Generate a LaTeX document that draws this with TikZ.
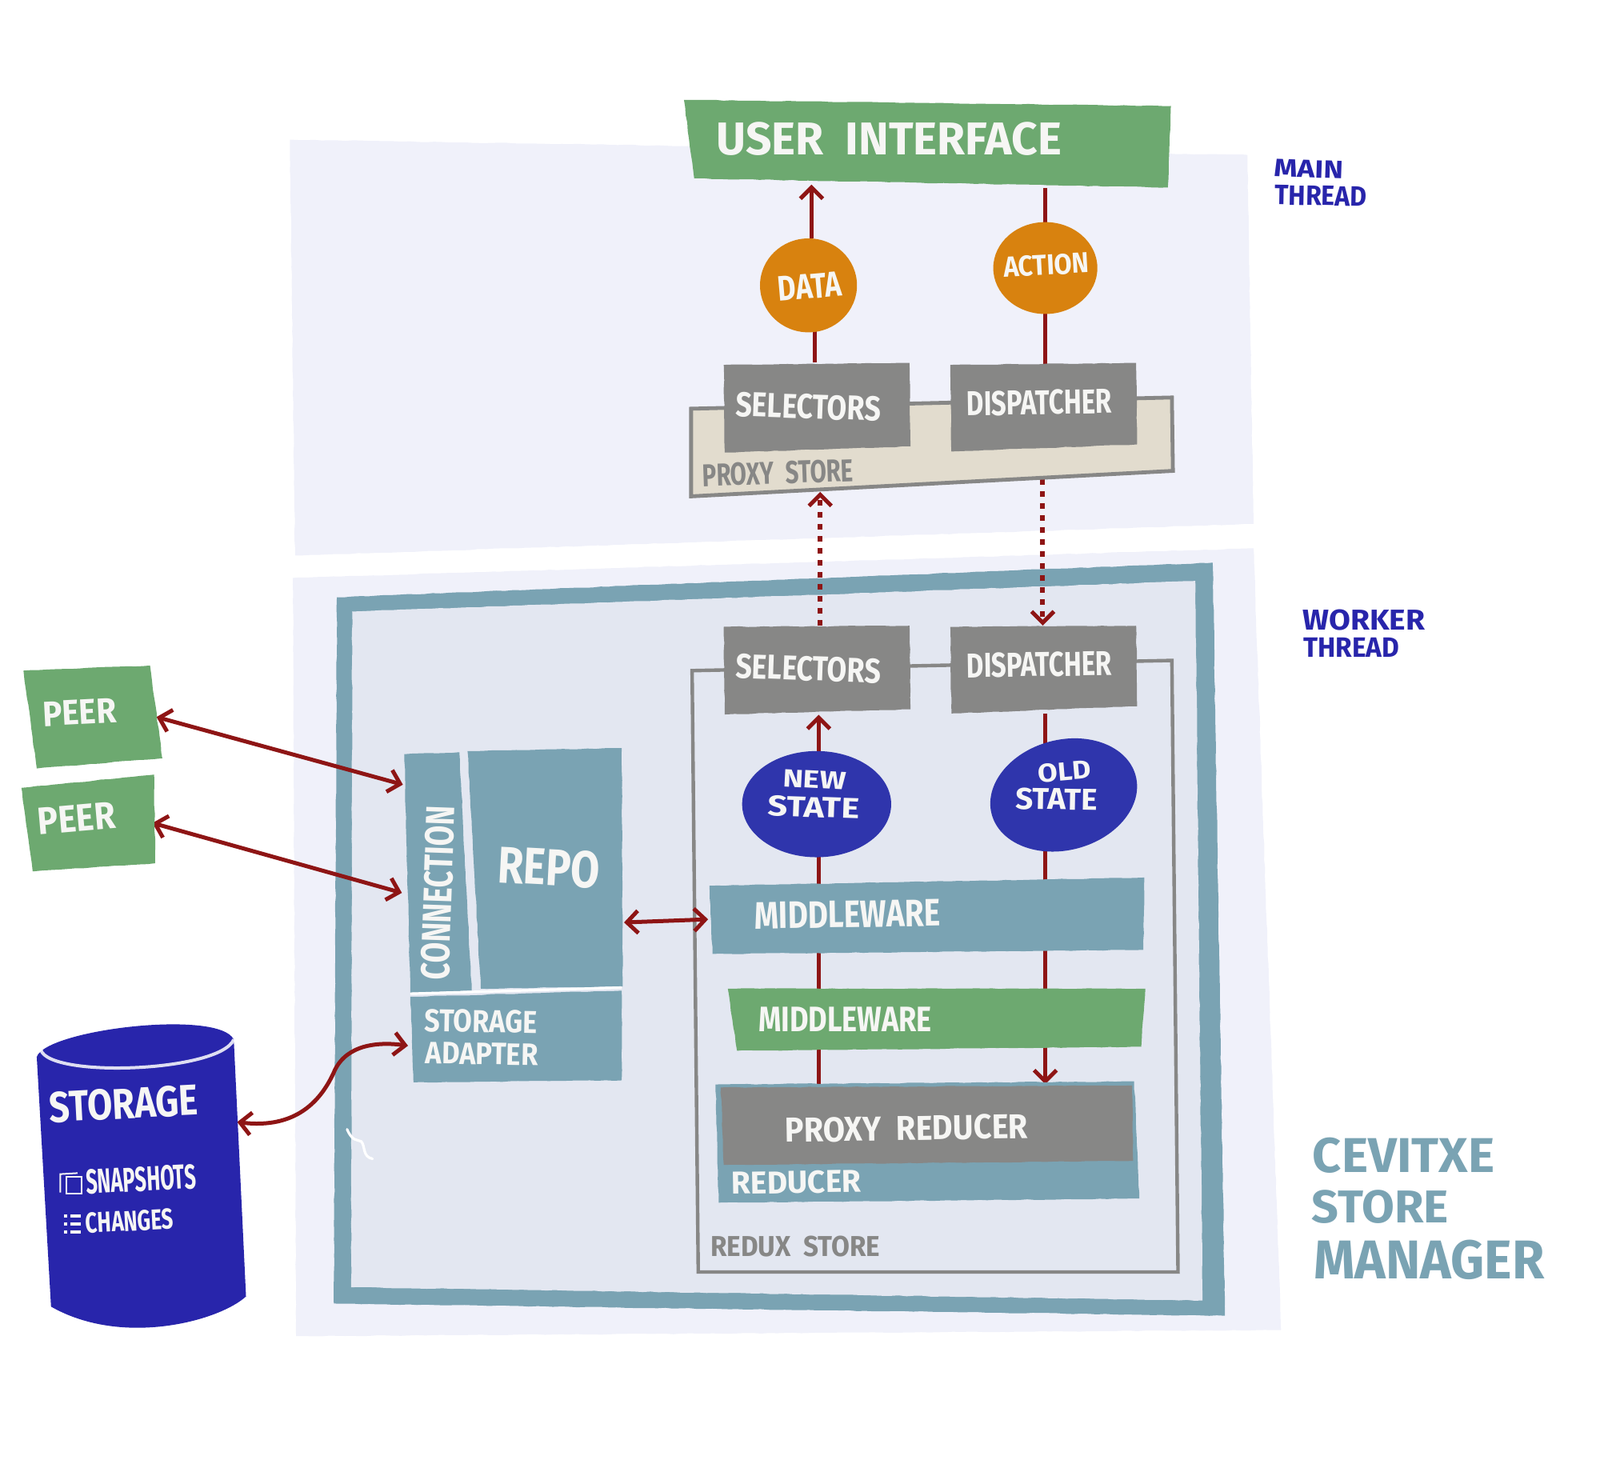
\documentclass[tikz,border=0pt]{standalone}
\usepackage{graphicx}
\usepackage{fontspec}
\setmainfont{Fira Sans}
\usetikzlibrary{arrows.meta,fit,calc,shapes.geometric,decorations.pathmorphing}
\definecolor{panelc}{HTML}{F0F1FA}
\definecolor{innerc}{HTML}{E3E7F1}
\definecolor{tealc}{HTML}{7AA3B3}
\definecolor{greenc}{HTML}{6DA970}
\definecolor{grayc}{HTML}{878786}
\definecolor{beigec}{HTML}{E2DCCE}
\definecolor{orangec}{HTML}{D8820F}
\definecolor{bluec}{HTML}{2F35AC}
\definecolor{deepc}{HTML}{2825AB}
\definecolor{redc}{HTML}{8E1515}
\definecolor{whitec}{HTML}{F6F6F4}
\newdimen\myu \myu=0.638pt
\pgfdeclarelayer{panel}
\pgfdeclarelayer{conn}
\pgfsetlayers{panel,conn,main}
\tikzset{
  rough/.style={decorate,decoration={random steps,segment length=5pt,amplitude=0.25pt}},
  teal fill/.style={rough,fill=tealc},
  green fill/.style={rough,fill=greenc},
  gray fill/.style={rough,fill=grayc},
  proxy fill/.style={fill=beigec,draw=grayc,line width=2.4pt},
  state/.style={ellipse,fill=bluec,inner sep=0pt},
  token/.style={ellipse,fill=orangec,inner sep=0pt},
  link/.style={draw=redc,line width=2.5pt},
  barb/.style={Straight Barb[length=7pt,width=14pt,line width=2.5pt]},
  flow/.style={link,-{Straight Barb[length=7pt,width=14pt,line width=2.5pt]}},
  both/.style={link,{Straight Barb[length=7pt,width=14pt,line width=2.5pt]}-{Straight Barb[length=7pt,width=14pt,line width=2.5pt]}},
  dots/.style={line width=3pt,dash pattern=on 3.5pt off 4pt},
}
% name, style, four corners
\newcommand{\poly}[6]{%
  \path[#2] #3 coordinate (#1-a) -- #4 coordinate (#1-b) -- #5 coordinate (#1-c) -- #6 coordinate (#1-d) -- cycle;
  \node[fit=(#1-a)(#1-b)(#1-c)(#1-d),inner sep=0pt] (#1) {};}
% name, position, rotation, width, height, colour, text
\newcommand{\lab}[7]{%
  \node[text=#6,inner sep=0pt,rotate=#3] (#1) at (#2) {\resizebox{#4\myu}{#5\myu}{\bfseries #7}};}
\begin{document}
\begin{tikzpicture}[x=0.638pt,y=-0.637pt]
\useasboundingbox (0pt,0pt) rectangle (1000pt,-914.5pt);
\begin{pgfonlayer}{panel}
  \poly{mainthread}{rough,fill=panelc}{(284,137)}{(1222,152)}{(1228,514)}{(289,545)}
  \poly{workerthread}{rough,fill=panelc}{(287,567)}{(1228,538)}{(1255,1305)}{(290,1311)}
  \path[rough,fill=tealc] (330,586) -- (1188,552) -- (1200,1291) -- (327,1279) -- cycle;
  \poly{managerbox}{rough,fill=innerc}{(345,600)}{(1171,570)}{(1178,1276)}{(344,1263)}
  \poly{reduxstore}{draw=grayc,line width=2.2pt}{(678,658)}{(1148,648)}{(1154,1248)}{(684,1248)}
\end{pgfonlayer}

\poly{ui}{green fill}{(670,98)}{(1147,104)}{(1144,184)}{(680,175)}
\poly{proxystore}{proxy fill}{(677,401)}{(1148,390)}{(1149,462)}{(677,487)}
\poly{sela}{gray fill}{(709,358)}{(891,356)}{(892,438)}{(710,444)}
\poly{disa}{gray fill}{(931,358)}{(1113,356)}{(1114,436)}{(932,443)}
\node[token,minimum width=95\myu,minimum height=92\myu] (data) at (792,280) {};
\node[token,minimum width=102\myu,minimum height=90\myu] (action) at (1024,263) {};
\poly{selb}{gray fill}{(709,615)}{(891,614)}{(892,696)}{(710,701)}
\poly{disb}{gray fill}{(931,615)}{(1113,614)}{(1114,693)}{(932,700)}
\node[state,minimum width=146\myu,minimum height=104\myu] (newstate) at (800,789) {};
\node[state,rotate=15,minimum width=146\myu,minimum height=108\myu] (oldstate) at (1042,780) {};
\poly{mwa}{teal fill}{(695,869)}{(1121,861)}{(1120,932)}{(698,936)}
\poly{mwb}{green fill}{(713,970)}{(1122,970)}{(1118,1027)}{(722,1031)}
\poly{reducer}{teal fill}{(701,1064)}{(1111,1061)}{(1116,1176)}{(704,1180)}
\poly{proxyreducer}{gray fill}{(706,1067)}{(1109,1065)}{(1110,1139)}{(709,1143)}
\poly{connection}{teal fill}{(396,740)}{(450,738)}{(462,972)}{(402,974)}
\poly{repo}{teal fill}{(458,737)}{(609,734)}{(610,968)}{(471,970)}
\poly{adapter}{teal fill}{(402,978)}{(609,972)}{(609,1060)}{(405,1062)}
\draw[white,line width=1.6pt] (402,975) -- (609,969);
\poly{peera}{green fill}{(23,658)}{(147,653)}{(159,744)}{(36,754)}
\poly{peerb}{green fill}{(21,773)}{(151,760)}{(152,847)}{(32,855)}

% storage cylinder
\fill[deepc] (36,1037) .. controls (45,1010) and (215,990) .. (229,1020) -- (241,1272)
  .. controls (215,1296) and (120,1322) .. (50,1282) -- cycle;
\draw[white,line width=2pt,opacity=.85] (40,1030) .. controls (48,1058) and (215,1052) .. (229,1020);
\coordinate (st1) at (36,1002);
\coordinate (st2) at (241,1298);
\node[fit=(st1)(st2),inner sep=0pt] (storage) {};
% icons in the cylinder
\draw[whitec,line width=1pt] (59,1170) -- (59,1152) -- (76,1151);
\draw[whitec,line width=1pt] (65,1155) rectangle (80,1171);
\foreach \yy in {1193,1201,1209}{
  \fill[whitec] (63,\yy-1.5) rectangle (66,\yy+1.5);
  \fill[whitec] (69,\yy-1.5) rectangle (79,\yy+1.5);
}
% small white stroke
\draw[white,line width=1.6pt,line cap=round] (340,1108) .. controls (345,1120) and (350,1118) .. (354,1120) .. controls (358,1125) and (355,1135) .. (365,1137);

\coordinate (lanea) at (802,0);
\coordinate (laneb) at (1024,0);
\begin{pgfonlayer}{conn}
  \draw[flow,shorten >=-2pt] ([xshift=3\myu]data.north) -- ([xshift=3\myu]data.north |- ui.south);
  \draw[link] ([xshift=-2.5\myu]sela.north) -- ([xshift=-2.5\myu]sela.north |- data.center);
  \draw[link] (ui.south -| action.center) -- (action.center);
  \draw[link] (action.center) -- (action.center |- disa.center);
  \draw[flow,dots,shorten >=-3pt] ([xshift=3\myu]selb.north) -- ([xshift=3\myu]selb.north |- proxystore.south);
  \draw[flow,dots] ([xshift=-1\myu]disa.center) -- ([xshift=-1\myu]disa.center |- disb.north);
  \draw[flow] (lanea |- newstate.center) -- (lanea |- selb.south);
  \draw[link] (disb.south -| laneb) -- (laneb |- oldstate.center);
  \draw[link] (lanea |- newstate.center) -- (lanea |- mwa.center);
  \draw[link] (laneb |- oldstate.center) -- (laneb |- mwa.center);
  \draw[link] (lanea |- mwa.center) -- (lanea |- mwb.center);
  \draw[link] (laneb |- mwa.center) -- (laneb |- mwb.center);
  \draw[link] (lanea |- mwb.center) -- (lanea |- reducer.center);
  \draw[flow,shorten >=-2pt] (laneb |- mwb.center) -- (laneb |- reducer.north);
  \draw[both] ([xshift=1\myu,yshift=-53\myu]repo.east) -- ([xshift=-1\myu,yshift=-3.5\myu]mwa.west);
  \draw[both] ([xshift=-6\myu]peera.east) -- ([xshift=-1\myu,yshift=86\myu]connection.west);
  \draw[both] ([xshift=-3\myu]peerb.east) -- ([xshift=-2\myu,yshift=-20\myu]connection.west);
  \draw[both] ([xshift=-9\myu,yshift=49\myu]storage.east) .. controls (290,1108) and (315,1080) .. (328,1050) .. controls (340,1025) and (370,1022) .. ([xshift=-2\myu,yshift=-9\myu]adapter.west);
\end{pgfonlayer}

% labels
\lab{luser}{871,136}{0}{338}{32}{whitec}{USER\ \ INTERFACE}
\lab{ldata}{793,281}{5}{62}{24}{whitec}{DATA}
\lab{lact}{1025,260}{3}{84}{20}{whitec}{ACTION}
\lab{lsela}{792,399}{-2}{142}{24}{whitec}{SELECTORS}
\lab{ldisa}{1018,395}{1}{142}{24}{whitec}{DISPATCHER}
\lab{lproxy}{762,464}{2}{148}{22}{grayc}{PROXY\ \ STORE}
\lab{lselb}{792,656}{-2}{142}{24}{whitec}{SELECTORS}
\lab{ldisb}{1018,652}{1}{142}{24}{whitec}{DISPATCHER}
\lab{lnewa}{798,765}{-3}{62}{17}{whitec}{NEW}
\lab{lnewb}{797,792}{-2}{90}{20}{whitec}{STATE}
\lab{lolda}{1043,757}{5}{52}{18}{whitec}{OLD}
\lab{loldb}{1035,784}{-1}{80}{21}{whitec}{STATE}
\lab{lmwa}{830,897}{1}{182}{26}{whitec}{MIDDLEWARE}
\lab{lmwb}{828,1000}{0}{170}{24}{whitec}{MIDDLEWARE}
\lab{lpred}{888,1107}{1}{238}{24}{whitec}{PROXY\ \ REDUCER}
\lab{lred}{780,1160}{1}{127}{22}{whitec}{REDUCER}
\lab{lredux}{779,1223}{0}{166}{20}{grayc}{REDUX\ \ STORE}
\lab{lconn}{429,876}{88}{170}{28}{whitec}{CONNECTION}
\lab{lrepo}{538,851}{-3}{100}{36}{whitec}{REPO}
\lab{lstora}{471,1002}{-1}{110}{22}{whitec}{STORAGE}
\lab{lstorb}{472,1034}{-1}{110}{21}{whitec}{ADAPTER}
\lab{lpeera}{78,699}{3}{72}{24}{whitec}{PEER}
\lab{lpeerb}{75,803}{5}{76}{26}{whitec}{PEER}
\lab{lstorage}{121,1083}{3}{146}{30}{whitec}{STORAGE}
\lab{lsnap}{138,1157}{3}{108}{24}{whitec}{SNAPSHOTS}
\lab{lchg}{127,1198}{3}{86}{20}{whitec}{CHANGES}
\lab{lmain}{1282,166}{-2}{68}{17}{deepc}{MAIN}
\lab{lmaint}{1294,192}{-1}{90}{19}{deepc}{THREAD}
\lab{lwork}{1336,608}{0}{120}{20}{deepc}{WORKER}
\lab{lworkt}{1324,635}{0}{94}{19}{deepc}{THREAD}
\lab{ltita}{1375,1134}{0}{178}{34}{tealc}{CEVITXE}
\lab{ltitb}{1352,1184}{0}{134}{32}{tealc}{STORE}
\lab{ltitc}{1400,1236}{0}{226}{38}{tealc}{MANAGER}
\end{tikzpicture}
\end{document}
